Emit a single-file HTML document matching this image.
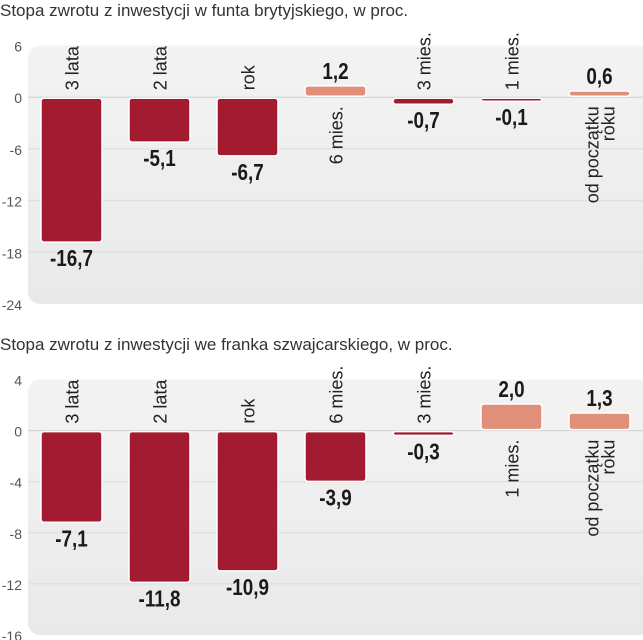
<!DOCTYPE html>
<html><head><meta charset="utf-8"><style>
body{margin:0;background:#fff;width:643px;height:640px;overflow:hidden;font-family:"Liberation Sans",sans-serif}
svg{display:block}
</style></head><body>
<svg id="c" width="643" height="640">
<defs><linearGradient id="pg" x1="0" y1="0" x2="0" y2="1"><stop offset="0" stop-color="#f3f3f3"/><stop offset="1" stop-color="#e9e9e9"/></linearGradient></defs>
</svg>
<script>
const categories1=["3 lata","2 lata","rok","6 mies.","3 mies.","1 mies.","od początku|roku"];
const values1=[-16.7,-5.1,-6.7,1.2,-0.7,-0.1,0.6];
const ticks1=[6,0,-6,-12,-18,-24];
const categories2=["3 lata","2 lata","rok","6 mies.","3 mies.","1 mies.","od początku|roku"];
const values2=[-7.1,-11.8,-10.9,-3.9,-0.3,2.0,1.3];
const ticks2=[4,0,-4,-8,-12,-16];
const svg=document.getElementById('c');
const NS='http://www.w3.org/2000/svg';
function mk(t,a,p){const e=document.createElementNS(NS,t);for(const k in a)e.setAttribute(k,a[k]);(p||svg).appendChild(e);return e;}
function chart(id,title,titleY,cats,vals,ticks,yTop,yBot){
  const g=mk('g',{});
  
  
  const tt=mk('text',{x:0,y:titleY,'font-size':17,fill:'#333'},g);tt.textContent=title;
  
  
  const vmax=ticks[0],vmin=ticks[ticks.length-1];
  const y=v=>yTop+(vmax-v)/(vmax-vmin)*(yBot-yTop);
  const bg=mk('rect',{x:28,y:yTop,width:640,height:yBot-yTop,rx:12,fill:'url(#pg)'},g);
  
  
  ticks.forEach(t=>{
    if(t!==vmax&&t!==vmin){const l=mk('line',{x1:28,x2:643,y1:y(t),y2:y(t),stroke:t===0?'#cfcfcf':'#dcdcdc','stroke-width':1},g);
    
    }
    const tx=mk('text',{x:22,y:y(t)+6,'font-size':14,fill:'#555','text-anchor':'end'},g);tx.textContent=t;
    
    
  });
  const y0=y(0);
  vals.forEach((v,i)=>{
    const x=41+i*88,w=61;
    let top,h=Math.max(Math.abs(y(v)-y0),3);
    if(v>0)top=y0-h-1; else top=y0+1;
    const r=mk('rect',{x:x,y:top,width:w,height:h,rx:3,fill:v<0?'#a31b31':'#e08f79',stroke:'#fff','stroke-width':1.5},g);
    
    
    const vy=v<0?top+h+24:top-7;
    const vt=mk('text',{x:0,y:0,'font-size':23,'font-weight':'bold',fill:'#1a1a1a','text-anchor':'middle',transform:`translate(${x+w/2},${vy}) scale(0.82,1)`},g);
    vt.textContent=v.toFixed(1).replace('.',',');
    
    
    const lines=cats[i].split('|');
    const cx=x+w/2;
    lines.forEach((ln,j)=>{
      const off=(j-(lines.length-1)/2)*16+7;
      let ct;
      if(v<0){
        ct=mk('text',{x:0,y:0,'font-size':18,fill:'#222','text-anchor':'start',transform:`translate(${cx+off},${y0-7}) rotate(-90)`},g);
      } else {
        ct=mk('text',{x:0,y:0,'font-size':18,fill:'#222','text-anchor':'end',transform:`translate(${cx+off},${y0+9}) rotate(-90)`},g);
      }
      ct.textContent=ln;
      
      
    });
  });
}
chart('chart-gbp','Stopa zwrotu z inwestycji w funta brytyjskiego, w proc.',16,categories1,values1,ticks1,45.5,304);
chart('chart-chf','Stopa zwrotu z inwestycji we franka szwajcarskiego, w proc.',350,categories2,values2,ticks2,379.5,635);
</script>
</body></html>
